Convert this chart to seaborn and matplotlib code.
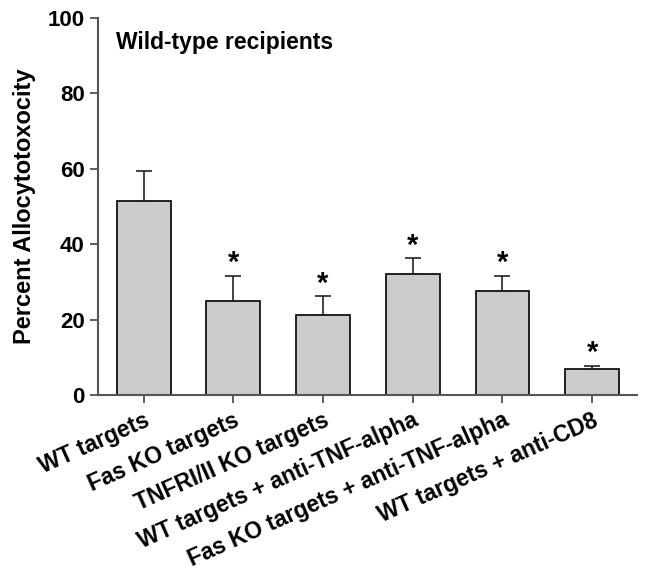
import matplotlib
matplotlib.use("Agg")
import matplotlib.pyplot as plt
import seaborn as sns
import pandas as pd
import numpy as np

categories = ["WT targets", "Fas KO targets", "TNFRI/II KO targets",
              "WT targets + anti-TNF-alpha", "Fas KO targets + anti-TNF-alpha",
              "WT targets + anti-CD8"]
values = [51.5, 24.9, 21.2, 32.0, 27.6, 6.8]
errors = [8.0, 6.7, 5.0, 4.2, 4.0, 0.9]
significant = [False, True, True, True, True, True]
title_text = "Wild-type recipients"
ylabel_text = "Percent Allocytotoxocity"

sns.set_theme(style="ticks")
plt.rcParams['font.family'] = ['Liberation Sans', 'DejaVu Sans']
plt.rcParams['font.weight'] = 'bold'
plt.rcParams['text.color'] = 'black'
plt.rcParams['axes.labelcolor'] = 'black'
plt.rcParams['xtick.color'] = 'black'
plt.rcParams['ytick.color'] = 'black'

df = pd.DataFrame({"cat": categories, "val": values})

fig = plt.figure(figsize=(6.48, 5.85), dpi=100)
ax = fig.add_axes([0.151, 0.325, 0.832, 0.644])

sns.barplot(data=df, x="cat", y="val", color="#cccccc", edgecolor="black",
            linewidth=1.2, width=0.6, errorbar=None, saturation=1, ax=ax)

x = np.arange(len(categories))
ax.errorbar(x, values, yerr=[np.zeros(len(values)), errors], fmt="none",
            ecolor="#222222", elinewidth=1.2, capsize=5.5, capthick=1.2, zorder=1)

for xi, v, e, s in zip(x, values, errors, significant):
    if s:
        ax.annotate("*", (xi, v + e), xytext=(0, -1), textcoords="offset points",
                    ha="center", va="bottom", fontsize=21, fontweight="bold")

ax.set_xlim(-0.51, 5.5)
ax.set_ylim(0, 100)
ax.set_yticks([0, 20, 40, 60, 80, 100])
ax.set_xlabel("")
ax.set_ylabel(ylabel_text, fontsize=17, fontweight="bold", labelpad=8)
ax.set_xticks(x)
ax.set_xticklabels(categories, rotation=24, ha="right", rotation_mode="anchor",
                   fontsize=16.5, fontweight="bold")
for lab in ax.get_yticklabels():
    lab.set_fontsize(16)
    lab.set_fontweight("bold")

ax.tick_params(axis="both", direction="out", length=6, width=1.2)
ax.tick_params(axis="both", color="#444444")
ax.tick_params(axis="x", pad=4)
for sp in ["top", "right"]:
    ax.spines[sp].set_visible(False)
for sp in ["left", "bottom"]:
    ax.spines[sp].set_color("#555555")
    ax.spines[sp].set_linewidth(1.5)

ax.text(0.033, 0.935, title_text, transform=ax.transAxes, fontsize=16.5,
        fontweight="bold", ha="left", va="center")

fig.savefig("out.png", dpi=100)
